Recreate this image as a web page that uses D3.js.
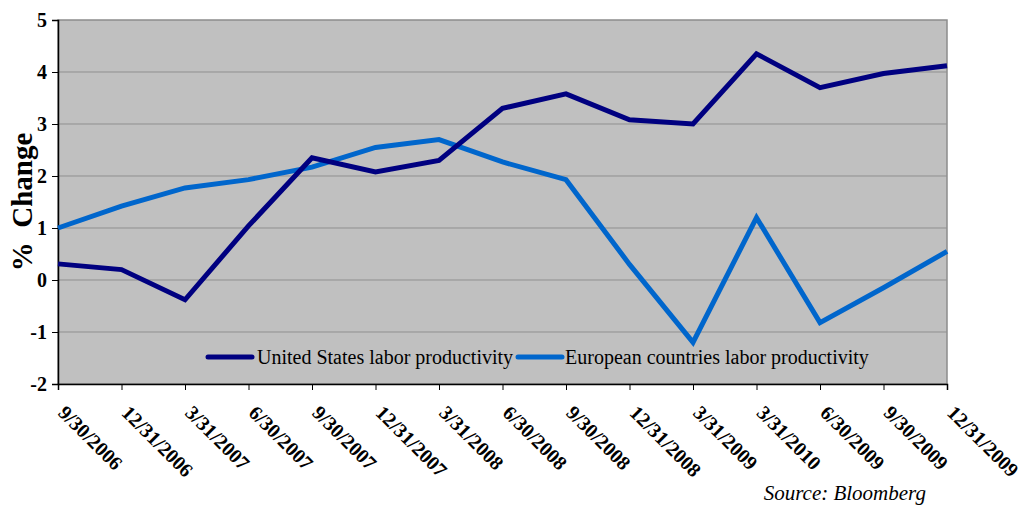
<!DOCTYPE html>
<html><head><meta charset="utf-8">
<script src="https://cdn.jsdelivr.net/npm/d3@7"></script>
<style>
html,body{margin:0;padding:0;background:#fff;}
svg{display:block;}
</style></head>
<body>
<svg id="chart" width="1024" height="507"></svg>
<script>
const categories = ["9/30/2006","12/31/2006","3/31/2007","6/30/2007","9/30/2007","12/31/2007","3/31/2008","6/30/2008","9/30/2008","12/31/2008","3/31/2009","3/31/2010","6/30/2009","9/30/2009","12/31/2009"];
const usValues = [0.31, 0.2, -0.38, 1.04, 2.35, 2.08, 2.3, 3.3, 3.58, 3.08, 3.0, 4.35, 3.7, 3.97, 4.12];
const euValues = [1.0, 1.42, 1.77, 1.93, 2.17, 2.55, 2.7, 2.27, 1.93, 0.3, -1.2, 1.2, -0.82, -0.15, 0.55];
const yTicks = [-2, -1, 0, 1, 2, 3, 4, 5];
const seriesNames = ["United States labor productivity", "European countries labor productivity"];
const seriesColors = ["#000080", "#0066CC"];

const svg = d3.select("#chart");
const L = 58, R = 947, T = 20, B = 384;
const x = d3.scalePoint().domain(categories).range([L, R]);
const y = d3.scaleLinear().domain([-2, 5]).range([B, T]);
const serif = "'Liberation Serif','Times New Roman',serif";

// plot background
svg.append("rect").attr("x", L).attr("y", T).attr("width", R - L).attr("height", B - T)
  .attr("fill", "#C0C0C0").attr("stroke", "#8c8c8c").attr("stroke-width", 1.5);

// gridlines
svg.append("g").selectAll("line").data(yTicks.filter(d => d > -2 && d < 5)).join("line")
  .attr("x1", L).attr("x2", R).attr("y1", d => y(d)).attr("y2", d => y(d))
  .attr("stroke", "#8f8f8f").attr("stroke-width", 1);

// y axis
const yAxis = svg.append("g").attr("transform", `translate(${L},0)`)
  .call(d3.axisLeft(y).tickValues(yTicks).tickSize(6).tickPadding(5).tickFormat(d => String(d)));
yAxis.select(".domain").attr("stroke", "#000").attr("stroke-width", 1.5);
yAxis.selectAll(".tick line").attr("stroke", "#000");
yAxis.selectAll("text").attr("font-family", serif).attr("font-weight", "bold")
  .attr("font-size", 20).attr("fill", "#000");

// x axis
const xAxis = svg.append("g").attr("transform", `translate(0,${B})`)
  .call(d3.axisBottom(x).tickSize(6).tickFormat(""));
xAxis.select(".domain").attr("stroke", "#000").attr("stroke-width", 1.5);
xAxis.selectAll(".tick line").attr("stroke", "#000");

// x labels rotated
svg.append("g").selectAll("text").data(categories).join("text")
  .attr("transform", d => `translate(${x(d) - 1},${B + 30}) rotate(45)`)
  .attr("text-anchor", "start")
  .attr("font-family", serif).attr("font-weight", "bold").attr("font-size", 20)
  .attr("fill", "#000").text(d => d);

// lines
const line = d3.line().x((d, i) => x(categories[i])).y(d => y(d));
[euValues, usValues].forEach((vals, k) => {
  svg.append("path").datum(vals).attr("d", line).attr("fill", "none")
    .attr("stroke", k === 0 ? seriesColors[1] : seriesColors[0])
    .attr("stroke-width", 5).attr("stroke-linejoin", "miter").attr("stroke-linecap", "butt");
});

// legend
const legendY = 357;
const legItems = [{x: 208, tx: 257}, {x: 518, tx: 565}];
legItems.forEach((it, i) => {
  svg.append("line").attr("x1", it.x).attr("x2", it.x + 44).attr("y1", legendY).attr("y2", legendY)
    .attr("stroke", seriesColors[i]).attr("stroke-width", 5).attr("stroke-linecap", "round");
  svg.append("text").attr("x", it.tx).attr("y", legendY + 7)
    .attr("font-family", serif).attr("font-size", 20).attr("fill", "#000")
    .text(seriesNames[i]);
});

// y title
svg.append("text").attr("transform", "translate(32,202) rotate(-90)")
  .attr("text-anchor", "middle").attr("font-family", serif).attr("font-weight", "bold")
  .attr("font-size", 29).attr("fill", "#000").attr("xml:space", "preserve").text("%  Change");

// source
svg.append("text").attr("x", 926).attr("y", 500).attr("text-anchor", "end")
  .attr("font-family", serif).attr("font-style", "italic").attr("font-size", 21)
  .attr("fill", "#000").text("Source: Bloomberg");
</script>
</body></html>
